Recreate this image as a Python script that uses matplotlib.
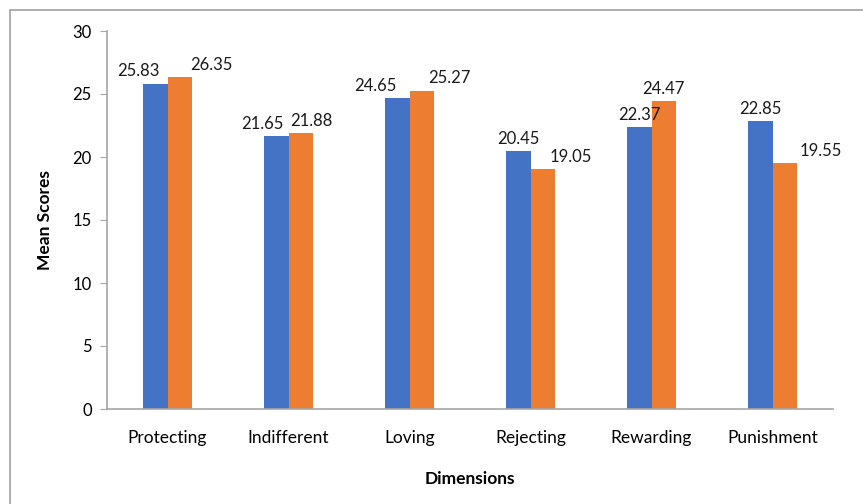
import numpy as np
import matplotlib.pyplot as plt
from matplotlib.patches import Rectangle

plt.rcParams['font.family'] = ['Lato', 'DejaVu Sans']

dimensions = ['Protecting', 'Indifferent', 'Loving', 'Rejecting', 'Rewarding', 'Punishment']
series_a = [25.83, 21.65, 24.65, 20.45, 22.37, 22.85]
series_b = [26.35, 21.88, 25.27, 19.05, 24.47, 19.55]

# horizontal nudge of each value label, in points
nudge_a = [-12, -10, -16, 0, 0, 0]
nudge_b = [23, 8, 20, 20, 0, 26]

blue = '#4472C4'
orange = '#ED7D31'
axis_gray = '#A6A6A6'

fig = plt.figure(figsize=(8.63, 5.04), dpi=100)
fig.patches.append(Rectangle((10 / 863, -0.1), 1.2, 1.1 - 10 / 504,
                             transform=fig.transFigure, fill=False,
                             edgecolor='#A0A0A0', linewidth=1.2))
ax = fig.add_axes([107 / 863, 1 - 409 / 504, 726 / 863, 378 / 504])

x = np.arange(len(dimensions))
w = 0.2
bars_a = ax.bar(x - w / 2, series_a, w, color=blue)
bars_b = ax.bar(x + w / 2, series_b, w, color=orange)

for bar, val, dx in zip(bars_a, series_a, nudge_a):
    ax.annotate(f'{val:.2f}', (bar.get_x() + bar.get_width() / 2, val),
                xytext=(dx, 3), textcoords='offset points',
                ha='center', va='bottom', fontsize=12, color='#1a1a1a')
for bar, val, dx in zip(bars_b, series_b, nudge_b):
    ax.annotate(f'{val:.2f}', (bar.get_x() + bar.get_width() / 2, val),
                xytext=(dx, 3), textcoords='offset points',
                ha='center', va='bottom', fontsize=12, color='#1a1a1a')

ax.set_xlim(-0.5, len(dimensions) - 0.5)
ax.set_ylim(0, 30)
ax.set_yticks(range(0, 31, 5))
ax.set_xticks(x)
ax.set_xticklabels(dimensions, fontsize=12.5)
ax.tick_params(axis='y', length=5, color=axis_gray, labelsize=12, pad=6)
ax.tick_params(axis='x', length=0, pad=15)

for side in ['top', 'right']:
    ax.spines[side].set_visible(False)
for side in ['left', 'bottom']:
    ax.spines[side].set_color(axis_gray)
    ax.spines[side].set_linewidth(1.2)

ax.set_ylabel('Mean Scores', fontsize=12.5, fontweight='bold', labelpad=14)
ax.set_xlabel('Dimensions', fontsize=12.5, fontweight='bold', labelpad=18)

fig.savefig('out.png', dpi=100)
